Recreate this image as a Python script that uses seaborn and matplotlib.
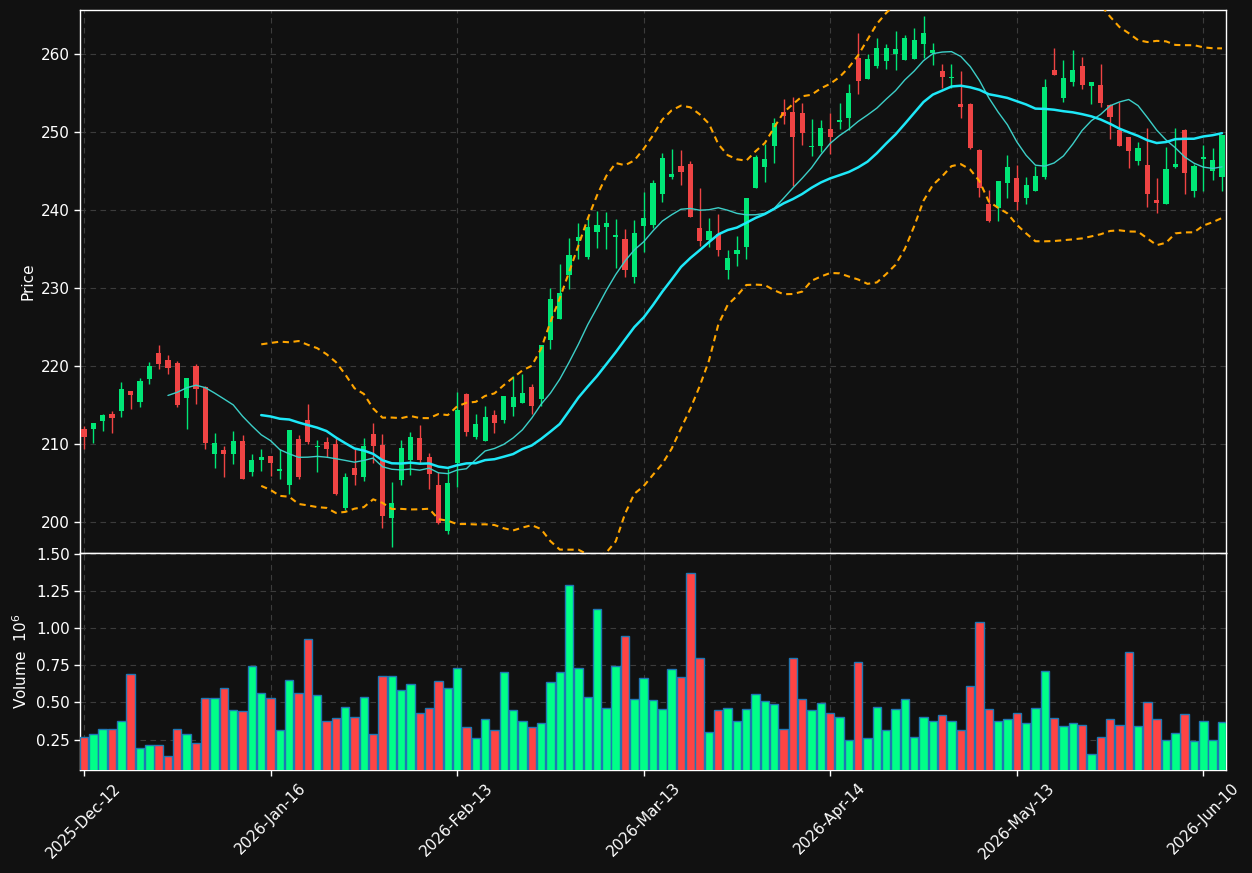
import numpy as np
import pandas as pd
import matplotlib
matplotlib.use('Agg')
import matplotlib.pyplot as plt
import seaborn as sns

# ---------------- data ----------------
tick_positions = [0, 20, 40, 60, 80, 100, 120]
tick_labels = ['2025-Dec-12', '2026-Jan-16', '2026-Feb-13', '2026-Mar-13',
               '2026-Apr-14', '2026-May-13', '2026-Jun-10']

opens = [211.94, 211.94, 213.0, 213.86, 214.29, 216.8, 215.44, 218.34, 221.66, 220.77,
         220.38, 215.95, 220.0, 217.31, 208.78, 209.21, 208.78, 210.41, 206.35, 207.89,
         208.49, 206.48, 204.69, 210.66, 213.09, 209.68, 210.28, 210.02, 201.75, 206.95,
         205.71, 211.3, 209.89, 200.47, 205.33, 207.89, 210.79, 208.36, 204.78, 198.81,
         207.51, 216.46, 210.9, 210.38, 213.76, 213.08, 214.74, 215.26, 217.35, 215.81,
         223.33, 225.98, 231.67, 236.03, 233.97, 237.18, 237.86, 236.58, 236.24, 231.41,
         237.95, 238.14, 242.09, 244.19, 245.68, 245.94, 237.74, 236.2, 236.92, 232.26,
         234.32, 235.21, 242.78, 245.56, 248.16, 252.61, 252.61, 252.48, 248.03, 248.16,
         250.43, 251.32, 251.75, 259.53, 256.84, 258.42, 259.06, 259.96, 259.19, 259.4,
         261.24, 260.09, 257.86, 256.88, 253.63, 253.63, 247.74, 240.81, 240.21, 243.42,
         244.15, 241.5, 242.39, 244.27, 257.91, 254.32, 256.37, 258.5, 255.85, 256.07,
         253.42, 250.3, 249.36, 246.24, 245.81, 241.32, 240.73, 245.56, 250.3, 242.39,
         246.5, 244.96, 244.19]
highs = [212.32, 212.71, 213.86, 214.2, 217.91, 216.8, 218.42, 220.47, 222.69, 221.41,
         220.64, 218.42, 220.21, 217.48, 211.39, 209.72, 211.68, 211.13, 208.7, 209.34,
         208.49, 209.34, 211.81, 211.13, 215.14, 210.53, 210.87, 210.75, 206.27, 209.34,
         210.75, 212.67, 211.26, 205.12, 210.49, 211.51, 212.41, 208.87, 206.4, 206.78,
         216.72, 216.6, 213.89, 214.91, 214.4, 216.2, 218.72, 219.02, 217.69, 222.74,
         230.04, 233.03, 236.45, 238.29, 239.15, 239.87, 239.79, 238.89, 237.61, 238.68,
         242.35, 243.87, 247.26, 247.82, 247.74, 246.28, 242.86, 238.97, 239.49, 234.87,
         236.67, 241.58, 247.09, 248.5, 251.75, 254.23, 254.49, 253.72, 251.67, 251.54,
         252.39, 253.72, 256.11, 262.69, 259.96, 262.0, 261.32, 262.95, 262.44, 263.33,
         264.87, 261.45, 258.76, 258.72, 257.86, 253.7, 247.82, 242.56, 243.76, 247.05,
         245.73, 244.23, 245.64, 256.84, 260.77, 259.23, 260.51, 259.57, 256.41, 258.72,
         253.55, 253.8, 249.36, 248.72, 250.51, 244.1, 248.08, 250.51, 250.43, 245.85,
         248.33, 247.95, 249.57]
lows = [209.34, 210.11, 211.73, 211.39, 213.52, 214.54, 214.71, 217.65, 219.66, 218.93,
        214.71, 211.9, 215.1, 209.34, 206.91, 205.76, 207.38, 205.46, 205.89, 206.48,
        205.93, 205.46, 203.58, 205.46, 209.98, 206.4, 208.4, 203.41, 201.58, 204.73,
        205.2, 207.55, 199.19, 196.8, 204.73, 206.01, 207.38, 204.22, 199.7, 198.51,
        204.48, 211.08, 210.68, 210.38, 211.45, 212.74, 213.63, 215.26, 213.89, 214.87,
        222.14, 225.98, 229.83, 233.68, 233.68, 235.13, 234.96, 232.6, 231.37, 230.68,
        234.66, 237.72, 240.98, 244.02, 243.16, 239.06, 235.43, 235.26, 234.06, 231.15,
        232.78, 233.72, 242.78, 243.59, 246.03, 251.03, 243.12, 248.33, 246.88, 247.39,
        247.14, 250.4, 250.21, 254.83, 256.75, 258.25, 258.08, 257.95, 259.19, 259.4,
        259.53, 258.59, 255.68, 255.68, 251.79, 247.78, 241.71, 238.42, 238.59, 241.5,
        240.0, 240.73, 242.39, 244.02, 257.26, 253.89, 255.94, 255.56, 253.55, 253.21,
        249.1, 248.16, 245.38, 245.75, 240.38, 239.66, 240.73, 245.38, 242.09, 241.67,
        242.38, 243.85, 242.44]
closes = [210.96, 212.71, 213.73, 213.35, 217.06, 216.29, 218.08, 220.0, 220.3, 219.79,
          215.05, 218.42, 217.1, 210.19, 210.11, 208.78, 210.41, 205.46, 207.98, 208.36,
          207.51, 206.82, 211.81, 205.71, 210.32, 209.81, 209.34, 203.54, 205.8, 206.06,
          209.77, 209.81, 200.72, 202.47, 209.51, 210.92, 207.89, 206.1, 199.83, 205.03,
          214.37, 211.5, 212.52, 213.42, 212.69, 216.2, 216.07, 216.58, 214.87, 222.74,
          228.55, 229.4, 234.19, 236.58, 237.78, 238.03, 238.29, 236.75, 232.31, 237.01,
          238.93, 243.44, 246.71, 244.66, 244.83, 239.06, 236.07, 237.35, 234.83, 233.85,
          234.87, 241.58, 246.79, 246.58, 251.15, 252.01, 249.32, 249.83, 248.25, 250.56,
          249.4, 251.58, 255.0, 256.5, 259.4, 260.81, 260.81, 260.68, 262.09, 261.84,
          262.74, 260.56, 257.05, 257.09, 253.16, 247.99, 242.78, 238.55, 243.76, 245.56,
          240.98, 243.25, 244.36, 255.81, 257.26, 256.97, 257.99, 255.98, 256.41, 253.68,
          251.88, 248.16, 247.52, 247.99, 242.01, 240.85, 245.3, 245.94, 244.7, 245.68,
          246.84, 246.45, 249.57]
volumes_m = [0.27, 0.284, 0.318, 0.318, 0.378, 0.689, 0.196, 0.216, 0.216, 0.142,
             0.324, 0.29, 0.23, 0.527, 0.527, 0.595, 0.446, 0.439, 0.743, 0.561,
             0.527, 0.311, 0.649, 0.561, 0.926, 0.547, 0.378, 0.392, 0.466, 0.399,
             0.534, 0.284, 0.676, 0.676, 0.581, 0.622, 0.426, 0.459, 0.642, 0.595,
             0.73, 0.331, 0.257, 0.385, 0.311, 0.703, 0.446, 0.372, 0.331, 0.358,
             0.635, 0.703, 1.29, 0.73, 0.534, 1.128, 0.459, 0.743, 0.946, 0.52,
             0.662, 0.514, 0.453, 0.723, 0.669, 1.372, 0.797, 0.304, 0.446, 0.459,
             0.372, 0.453, 0.554, 0.507, 0.486, 0.324, 0.797, 0.52, 0.446, 0.493,
             0.426, 0.399, 0.25, 0.77, 0.257, 0.466, 0.311, 0.453, 0.52, 0.264,
             0.399, 0.372, 0.412, 0.378, 0.311, 0.608, 1.04, 0.453, 0.378, 0.385,
             0.426, 0.358, 0.459, 0.709, 0.392, 0.338, 0.358, 0.351, 0.155, 0.264,
             0.385, 0.345, 0.838, 0.338, 0.5, 0.385, 0.25, 0.291, 0.419, 0.243,
             0.372, 0.25, 0.365]

# ---------------- styling ----------------
BG = '#111111'
UP_C, DN_C = '#00e676', '#ef4444'
VUP_C, VDN_C = '#00ff88', '#ff4444'
GRID_C = '#3c3c3c'

sns.set_theme(style='dark', rc={'axes.facecolor': BG, 'figure.facecolor': BG})
plt.rcParams['font.family'] = ['DejaVu Sans']

n = len(closes)
df = pd.DataFrame({'idx': np.arange(n), 'open': opens, 'high': highs,
                   'low': lows, 'close': closes, 'vol': volumes_m})
df['dir'] = np.where(df['close'] >= df['open'], 'up', 'down')
df['ma10'] = df['close'].rolling(10).mean()
df['ma20'] = df['close'].rolling(20).mean()
sd20 = df['close'].rolling(20).std()
df['bb_up'] = df['ma20'] + 2 * sd20
df['bb_dn'] = df['ma20'] - 2 * sd20

W, H = 1252, 873
fig = plt.figure(figsize=(W / 100, H / 100), dpi=100, facecolor=BG)
ax = fig.add_axes([80 / W, 1 - 553 / H, 1146 / W, 543 / H])
axv = fig.add_axes([80 / W, 1 - 770 / H, 1146 / W, 217 / H], sharex=ax)

# ---------------- candles ----------------
ccol = np.where(df['dir'] == 'up', UP_C, DN_C)
ax.vlines(df['idx'], df['low'], df['high'], colors=ccol, lw=1.0, zorder=3)
body = (df['close'] - df['open']).abs().clip(lower=0.12)
ax.bar(df['idx'], body, bottom=np.minimum(df['open'], df['close']),
       width=0.55, color=ccol, linewidth=0, zorder=4)

# ---------------- indicators ----------------
dash = (0, (3, 2.2))
sns.lineplot(data=df, x='idx', y='ma10', ax=ax, color='#3ccfc8', lw=1.0, zorder=5)
sns.lineplot(data=df, x='idx', y='ma20', ax=ax, color='#1ee8f8', lw=1.8, zorder=5)
sns.lineplot(data=df, x='idx', y='bb_up', ax=ax, color='#ffa500', lw=1.5,
             linestyle=dash, zorder=5)
sns.lineplot(data=df, x='idx', y='bb_dn', ax=ax, color='#ffa500', lw=1.5,
             linestyle=dash, zorder=5)

# ---------------- volume ----------------
sns.barplot(data=df, x='idx', y='vol', hue='dir', palette={'up': VUP_C, 'down': VDN_C},
            native_scale=True, dodge=False, width=0.9, errorbar=None, saturation=1,
            edgecolor='#1f77b4', linewidth=1.0, legend=False, ax=axv, zorder=3)

# ---------------- axes formatting ----------------
for a in (ax, axv):
    a.set_facecolor(BG)
    a.grid(True, linestyle=(0, (5, 4)), color=GRID_C, linewidth=0.8)
    a.set_axisbelow(True)
    for s in a.spines.values():
        s.set_color('white')
        s.set_linewidth(1.0)
    a.tick_params(colors='white', labelcolor='white', labelsize=11,
                  length=4, width=1, direction='out', left=True, bottom=True)

ax.set_xlim(-0.43, 122.43)
ax.set_ylim(196.03, 265.64)
ax.set_yticks([200, 210, 220, 230, 240, 250, 260])
ax.set_xticks(tick_positions)
ax.tick_params(axis='x', labelbottom=False, bottom=False)
ax.set_xlabel('')
ax.set_ylabel('Price', color='white', fontsize=11)

axv.set_ylim(0.045, 1.505)
axv.set_yticks([0.25, 0.5, 0.75, 1.0, 1.25, 1.5])
axv.set_yticklabels(['0.25', '0.50', '0.75', '1.00', '1.25', '1.50'])
axv.set_xticks(tick_positions)
axv.set_xticklabels(tick_labels, rotation=45, ha='center')
axv.set_xlim(-0.43, 122.43)
axv.set_xlabel('')
axv.set_ylabel('Volume  $10^{6}$', color='white', fontsize=11)

fig.savefig('out.png', dpi=100, facecolor=BG)
